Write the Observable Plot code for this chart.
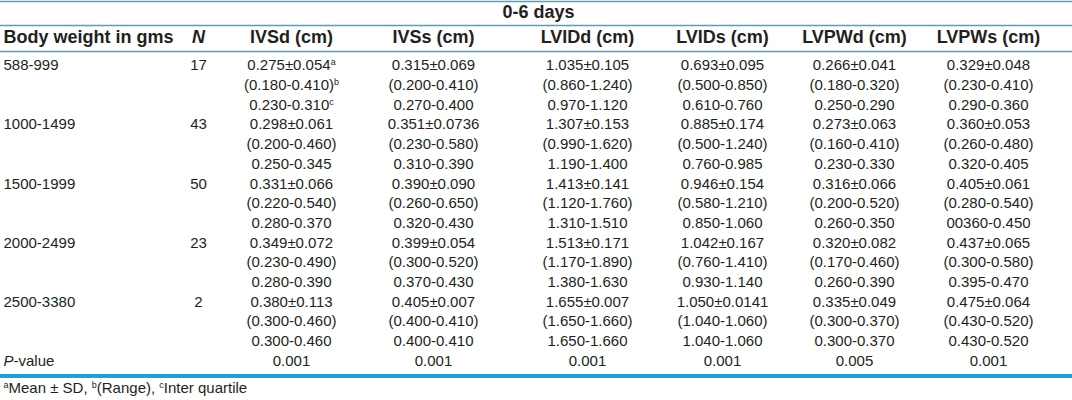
<!DOCTYPE html>
<html>
<head>
<meta charset="utf-8">
<script src="https://cdn.jsdelivr.net/npm/d3@7"></script>
<script src="https://cdn.jsdelivr.net/npm/@observablehq/plot@0.6"></script>
<style>
  html, body { margin: 0; padding: 0; background: #fff; }
  #chart svg { display: block; }
</style>
</head>
<body>
<div id="chart"></div>
<script>
// ---------------- DATA ----------------
const title = "0-6 days";
const labelHeader = "Body weight in gms";
const nHeader = "N";
const weights = ["588-999", "1000-1499", "1500-1999", "2000-2499", "2500-3380"];
const counts = [17, 43, 50, 23, 2];
const measures = ["IVSd (cm)", "IVSs (cm)", "LVIDd (cm)", "LVIDs (cm)", "LVPWd (cm)", "LVPWs (cm)"];

const ivsdMean  = ["0.275±0.054", "0.298±0.061", "0.331±0.066", "0.349±0.072", "0.380±0.113"];
const ivsdRange = ["0.180-0.410", "0.200-0.460", "0.220-0.540", "0.230-0.490", "0.300-0.460"];
const ivsdIqr   = ["0.230-0.310", "0.250-0.345", "0.280-0.370", "0.280-0.390", "0.300-0.460"];

const ivssMean  = ["0.315±0.069", "0.351±0.0736", "0.390±0.090", "0.399±0.054", "0.405±0.007"];
const ivssRange = ["0.200-0.410", "0.230-0.580", "0.260-0.650", "0.300-0.520", "0.400-0.410"];
const ivssIqr   = ["0.270-0.400", "0.310-0.390", "0.320-0.430", "0.370-0.430", "0.400-0.410"];

const lviddMean  = ["1.035±0.105", "1.307±0.153", "1.413±0.141", "1.513±0.171", "1.655±0.007"];
const lviddRange = ["0.860-1.240", "0.990-1.620", "1.120-1.760", "1.170-1.890", "1.650-1.660"];
const lviddIqr   = ["0.970-1.120", "1.190-1.400", "1.310-1.510", "1.380-1.630", "1.650-1.660"];

const lvidsMean  = ["0.693±0.095", "0.885±0.174", "0.946±0.154", "1.042±0.167", "1.050±0.0141"];
const lvidsRange = ["0.500-0.850", "0.500-1.240", "0.580-1.210", "0.760-1.410", "1.040-1.060"];
const lvidsIqr   = ["0.610-0.760", "0.760-0.985", "0.850-1.060", "0.930-1.140", "1.040-1.060"];

const lvpwdMean  = ["0.266±0.041", "0.273±0.063", "0.316±0.066", "0.320±0.082", "0.335±0.049"];
const lvpwdRange = ["0.180-0.320", "0.160-0.410", "0.200-0.520", "0.170-0.460", "0.300-0.370"];
const lvpwdIqr   = ["0.250-0.290", "0.230-0.330", "0.260-0.350", "0.260-0.390", "0.300-0.370"];

const lvpwsMean  = ["0.329±0.048", "0.360±0.053", "0.405±0.061", "0.437±0.065", "0.475±0.064"];
const lvpwsRange = ["0.230-0.410", "0.260-0.480", "0.280-0.540", "0.300-0.580", "0.430-0.520"];
const lvpwsIqr   = ["0.290-0.360", "0.320-0.405", "00360-0.450", "0.395-0.470", "0.430-0.520"];

const pLabel = "P-value";
const pValues = ["0.001", "0.001", "0.001", "0.001", "0.005", "0.001"];
const footnote = "^aMean ± SD, ^b(Range), ^cInter quartile";

// ---------------- LAYOUT (not data) ----------------
const W = 1072, H = 400;
const FONT = "'Liberation Sans', Arial, Helvetica, sans-serif";
const INK = "#231f20";
const THIN = "#4aa3c4";
const THICK = "#1fa0d6";
const labelX = 3;
const nX = 198;
const measureX = [291, 433, 587, 722, 854, 988];
const titleY = 12, headerY = 37, footY = 388;
const rowY = i => 65 + 19.7 * i;
const ruleThinY = [1, 25, 51];
const ruleThickY = [375.5];

// ---------------- TABLE BUILD ----------------
const groups = [
  [ivsdMean, ivsdRange, ivsdIqr],
  [ivssMean, ivssRange, ivssIqr],
  [lviddMean, lviddRange, lviddIqr],
  [lvidsMean, lvidsRange, lvidsIqr],
  [lvpwdMean, lvpwdRange, lvpwdIqr],
  [lvpwsMean, lvpwsRange, lvpwsIqr]
];
const sups = ["^a", "^b", "^c"];

const leftCells = [];
const centerCells = [];
weights.forEach((w, r) => {
  leftCells.push({x: labelX, y: rowY(r * 3), text: w});
  centerCells.push({x: nX, y: rowY(r * 3), text: String(counts[r])});
  groups.forEach((g, j) => {
    [0, 1, 2].forEach(k => {
      let t = g[k][r];
      if (k === 1) t = "(" + t + ")";
      if (r === 0 && j === 0) t += sups[k];
      centerCells.push({x: measureX[j], y: rowY(r * 3 + k), text: t});
    });
  });
});
leftCells.push({x: labelX, y: rowY(15), text: "*" + pLabel[0] + "*" + pLabel.slice(1)});
pValues.forEach((p, j) => centerCells.push({x: measureX[j], y: rowY(15), text: p}));

const headerLeft = [{x: labelX, y: headerY, text: labelHeader}];
const headerCenter = [{x: nX, y: headerY, text: "*" + nHeader + "*"}]
  .concat(measures.map((m, j) => ({x: measureX[j], y: headerY, text: m})));

const plot = Plot.plot({
  width: W,
  height: H,
  margin: 0,
  x: {type: "identity", axis: null},
  y: {type: "identity", axis: null},
  style: {fontFamily: FONT, color: INK, background: "#fff", overflow: "visible"},
  marks: [
    Plot.ruleY(ruleThinY, {y: d => d, x1: 0, x2: W, stroke: THIN, strokeWidth: 1.6}),
    Plot.ruleY(ruleThickY, {y: d => d, x1: 0, x2: W, stroke: THICK, strokeWidth: 4}),
    Plot.text([{x: W / 2 + 2, y: titleY, text: title}], {x: "x", y: "y", text: "text", fontSize: 18, fontWeight: "bold", fill: INK, textAnchor: "middle"}),
    Plot.text(headerLeft, {x: "x", y: "y", text: "text", fontSize: 18, fontWeight: "bold", fill: INK, textAnchor: "start"}),
    Plot.text(headerCenter, {x: "x", y: "y", text: "text", fontSize: 18, fontWeight: "bold", fill: INK, textAnchor: "middle"}),
    Plot.text(leftCells, {x: "x", y: "y", text: "text", fontSize: 15, fill: INK, textAnchor: "start"}),
    Plot.text(centerCells, {x: "x", y: "y", text: "text", fontSize: 15, fill: INK, textAnchor: "middle"}),
    Plot.text([{x: labelX, y: footY, text: footnote}], {x: "x", y: "y", text: "text", fontSize: 15, fill: INK, textAnchor: "start"})
  ]
});

// rich text: ^x => superscript, *...* => italic
d3.select(plot).selectAll("text").each(function () {
  const el = d3.select(this);
  const s = el.text();
  if (!/[\^*]/.test(s)) return;
  const parts = s.split(/(\^[a-z]|\*[^*]+\*)/).filter(p => p !== "");
  el.text(null);
  parts.forEach(p => {
    if (p[0] === "^") {
      el.append("tspan").attr("baseline-shift", "super").attr("font-size", "0.6em").text(p.slice(1));
    } else if (p[0] === "*") {
      el.append("tspan").attr("font-style", "italic").text(p.slice(1, -1));
    } else {
      el.append("tspan").text(p);
    }
  });
});

document.getElementById("chart").appendChild(plot);
</script>
</body>
</html>
